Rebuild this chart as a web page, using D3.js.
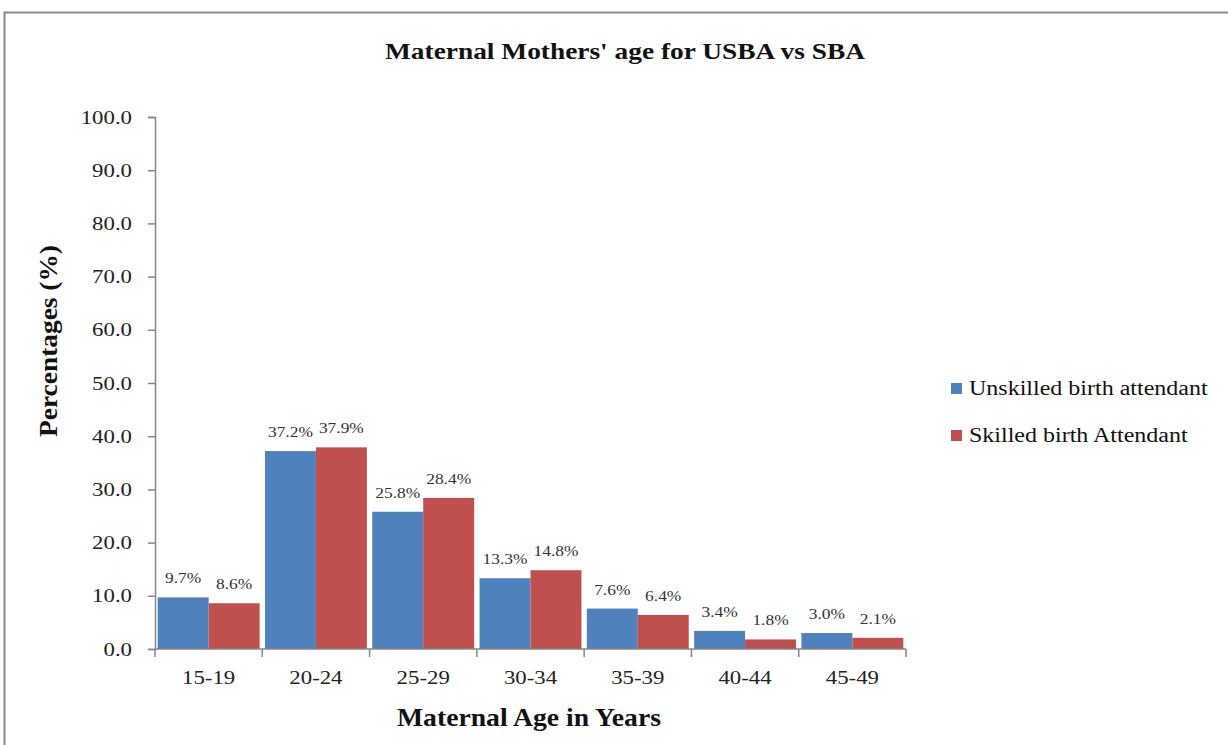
<!DOCTYPE html>
<html>
<head>
<meta charset="utf-8">
<script src="https://cdn.jsdelivr.net/npm/d3@7"></script>
<style>
  html, body { margin: 0; padding: 0; background: #fff; }
  svg { display: block; font-family: "Liberation Serif", "Times New Roman", serif; }
</style>
</head>
<body>
<svg id="chart" width="1228" height="745"></svg>
<script>
const categories = ["15-19", "20-24", "25-29", "30-34", "35-39", "40-44", "45-49"];
const seriesNames = ["Unskilled birth attendant", "Skilled birth Attendant"];
const unskilled = [9.7, 37.2, 25.8, 13.3, 7.6, 3.4, 3.0];
const skilled = [8.6, 37.9, 28.4, 14.8, 6.4, 1.8, 2.1];
const yTicks = [0, 10, 20, 30, 40, 50, 60, 70, 80, 90, 100];
const colors = ["#4F81BD", "#C0504D"];

const svg = d3.select("#chart");
const stretch = 1.2;

// outer frame (cropped at right and bottom)
svg.append("rect").attr("x", 4.5).attr("y", 12.5).attr("width", 1300).attr("height", 800)
  .attr("fill", "none").attr("stroke", "#8c8c8c").attr("stroke-width", 2);

const m = { left: 155, right: 906, top: 117, bottom: 649 };
const x0 = d3.scaleBand().domain(categories).range([m.left, m.right]).paddingInner(0.05).paddingOuter(0.025);
const x1 = d3.scaleBand().domain([0, 1]).range([0, x0.bandwidth()]);
const y = d3.scaleLinear().domain([0, 100]).range([m.bottom, m.top]);

const data = categories.map((c, i) => ({ cat: c, vals: [unskilled[i], skilled[i]] }));

// bars
const g = svg.append("g");
data.forEach(d => {
  d.vals.forEach((v, s) => {
    g.append("rect")
      .attr("x", x0(d.cat) + x1(s))
      .attr("y", y(v))
      .attr("width", x1.bandwidth())
      .attr("height", y(0) - y(v))
      .attr("fill", colors[s]);
    g.append("text")
      .attr("class", "st")
      .attr("x", x0(d.cat) + x1(s) + x1.bandwidth() / 2)
      .attr("y", y(v) - 14)
      .attr("text-anchor", "middle")
      .attr("font-size", 14.5)
      .attr("fill", "#333")
      .text(v.toFixed(1) + "%");
  });
});

// y axis
const yAxis = d3.axisLeft(y).tickValues(yTicks).tickFormat(d3.format(".1f")).tickSize(7).tickPadding(16);
const ya = svg.append("g").attr("transform", `translate(${m.left},0)`).call(yAxis);
ya.select(".domain").attr("stroke", "#868686").attr("stroke-width", 1.5);
ya.selectAll(".tick line").attr("stroke", "#868686").attr("stroke-width", 1.5);
ya.selectAll(".tick text").attr("class", "st").attr("font-size", 19).attr("fill", "#222")
  .attr("font-family", "Liberation Serif");

// x axis with ticks between categories
const xAxisLine = svg.append("g");
xAxisLine.append("line").attr("x1", m.left).attr("x2", m.right).attr("y1", m.bottom).attr("y2", m.bottom)
  .attr("stroke", "#868686").attr("stroke-width", 1.5);
const tickPos = categories.map(c => x0(c) - x0.step() * x0.paddingInner() / 2);
tickPos.push(m.right);
tickPos[0] = m.left;
tickPos.forEach(tx => {
  xAxisLine.append("line").attr("x1", tx).attr("x2", tx).attr("y1", m.bottom).attr("y2", m.bottom + 8)
    .attr("stroke", "#868686").attr("stroke-width", 1.5);
});
categories.forEach(c => {
  svg.append("text").attr("class", "st")
    .attr("x", x0(c) + x0.bandwidth() / 2).attr("y", 684)
    .attr("text-anchor", "middle").attr("font-size", 19).attr("fill", "#222")
    .text(c);
});

// titles
svg.append("text")
  .attr("x", 625).attr("y", 59).attr("text-anchor", "middle")
  .attr("font-size", 24).attr("font-weight", "bold").attr("fill", "#111")
  .attr("textLength", 480).attr("lengthAdjust", "spacingAndGlyphs")
  .text("Maternal Mothers' age for USBA vs SBA");

svg.append("text")
  .attr("x", 529).attr("y", 726).attr("text-anchor", "middle")
  .attr("font-size", 25).attr("font-weight", "bold").attr("fill", "#111")
  .attr("textLength", 264).attr("lengthAdjust", "spacingAndGlyphs")
  .text("Maternal Age in Years");

svg.append("text")
  .attr("transform", "translate(57,341) rotate(-90)")
  .attr("text-anchor", "middle")
  .attr("font-size", 26).attr("font-weight", "bold").attr("fill", "#111")
  .attr("textLength", 192).attr("lengthAdjust", "spacingAndGlyphs")
  .text("Percentages (%)");

// legend
seriesNames.forEach((n, i) => {
  const ly = 388 + i * 47;
  svg.append("rect").attr("x", 951).attr("y", ly - 5).attr("width", 11).attr("height", 11).attr("fill", colors[i]);
  svg.append("text").attr("class", "st")
    .attr("x", 969).attr("y", ly + 7).attr("font-size", 20).attr("fill", "#111")
    .text(n);
});

// horizontal stretch to mimic the reference's wide rendering
svg.selectAll("text.st").each(function () {
  const len = this.getComputedTextLength();
  d3.select(this).attr("textLength", len * stretch).attr("lengthAdjust", "spacingAndGlyphs");
});
</script>
</body>
</html>
